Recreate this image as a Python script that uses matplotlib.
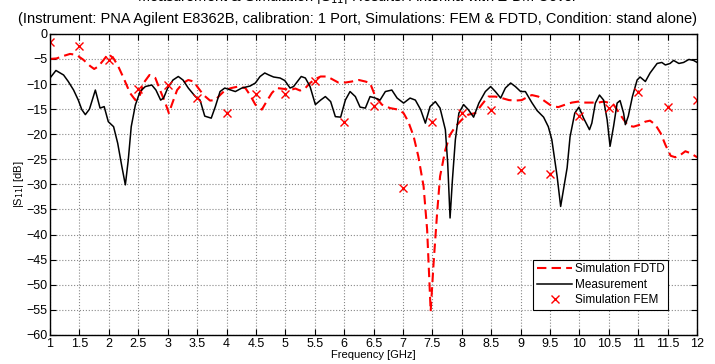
import numpy as np
import matplotlib
matplotlib.use("Agg")
import matplotlib.pyplot as plt

plt.rcParams['font.family'] = ['Liberation Sans', 'DejaVu Sans']

# Measurement (black line)
meas_f = [1.0, 1.10, 1.23, 1.31, 1.40, 1.48, 1.54, 1.60, 1.67, 1.77, 1.85, 1.92, 1.99,
          2.08, 2.15, 2.22, 2.28, 2.33, 2.38, 2.45, 2.53, 2.62, 2.73, 2.80, 2.88, 2.93,
          3.00, 3.09, 3.18, 3.26, 3.35, 3.47, 3.55, 3.63, 3.74, 3.81, 3.89, 3.97, 4.15,
          4.26, 4.40, 4.49, 4.57, 4.65, 4.72, 4.80, 4.91, 4.99, 5.08, 5.14, 5.27, 5.34,
          5.42, 5.51, 5.60, 5.68, 5.77, 5.85, 5.94, 6.02, 6.10, 6.19, 6.27, 6.36, 6.44,
          6.53, 6.61, 6.70, 6.81, 6.90, 7.01, 7.12, 7.21, 7.30, 7.38, 7.46, 7.55, 7.63,
          7.72, 7.76, 7.80, 7.84, 7.89, 7.95, 8.03, 8.11, 8.20, 8.29, 8.40, 8.49, 8.57,
          8.66, 8.74, 8.83, 8.91, 9.00, 9.08, 9.19, 9.28, 9.39, 9.47, 9.53, 9.62, 9.68,
          9.79, 9.84, 9.92, 9.99, 10.07, 10.17, 10.21, 10.27, 10.34, 10.41, 10.47, 10.52,
          10.58, 10.64, 10.69, 10.75, 10.78, 10.83, 10.90, 10.98, 11.03, 11.12, 11.20,
          11.32, 11.40, 11.46, 11.54, 11.60, 11.69, 11.77, 11.86, 11.94, 12.0]
meas_db = [-8.8, -7.3, -8.2, -9.5, -11.2, -13.2, -15.1, -16.1, -15.0, -11.2, -14.8, -14.5, -17.5,
           -18.5, -21.8, -26.4, -30.1, -25.1, -18.5, -14.2, -11.5, -10.5, -10.2, -11.2, -13.2, -12.8,
           -10.8, -9.2, -8.5, -9.2, -10.8, -12.5, -13.2, -16.4, -16.8, -14.5, -11.5, -10.8, -11.5,
           -10.8, -10.4, -9.8, -8.5, -7.8, -8.2, -8.6, -8.8, -9.3, -10.8, -10.5, -8.5, -8.8,
           -10.5, -14.1, -13.2, -12.5, -13.5, -16.5, -16.6, -13.2, -11.5, -12.5, -14.6, -14.8, -12.5,
           -12.8, -13.2, -11.5, -11.2, -12.8, -13.8, -12.8, -13.2, -15.1, -17.8, -14.5, -13.5, -14.8,
           -19.1, -25.8, -36.7, -29.1, -21.1, -15.8, -14.1, -15.1, -16.6, -13.8, -11.5, -10.5, -11.5,
           -12.8, -10.8, -9.8, -10.5, -11.5, -11.5, -13.7, -15.3, -16.6, -18.5, -21.1, -28.4, -34.4,
           -26.7, -20.5, -15.8, -14.6, -16.8, -19.1, -17.8, -13.8, -12.2, -13.2, -17.1, -22.4,
           -18.4, -13.8, -13.3, -15.8, -18.1, -16.4, -12.5, -9.2, -8.6, -9.5, -7.8,
           -5.9, -5.7, -6.2, -5.9, -5.3, -5.9, -5.7, -5.1, -5.3, -5.7]

# Simulation FDTD (red dashed)
fdtd_f = [1.0, 1.11, 1.23, 1.34, 1.45, 1.57, 1.68, 1.75, 1.82, 1.91, 1.99, 2.08, 2.16,
          2.25, 2.36, 2.45, 2.52, 2.59, 2.69, 2.79, 2.87, 2.96, 3.02, 3.07, 3.16, 3.26,
          3.35, 3.44, 3.52, 3.61, 3.72, 3.81, 3.89, 3.98, 4.08, 4.20, 4.32, 4.40, 4.49,
          4.60, 4.68, 4.77, 4.85, 5.00, 5.08, 5.17, 5.25, 5.34, 5.42, 5.51, 5.60, 5.71,
          5.79, 5.90, 6.02, 6.13, 6.25, 6.36, 6.44, 6.53, 6.64, 6.78, 6.92, 7.01, 7.09,
          7.18, 7.26, 7.35, 7.41, 7.45, 7.47, 7.52, 7.58, 7.63, 7.72, 7.80, 7.89, 8.00,
          8.11, 8.23, 8.34, 8.45, 8.57, 8.68, 8.80, 8.91, 9.02, 9.13, 9.19, 9.30, 9.42,
          9.53, 9.64, 9.76, 9.87, 9.98, 10.10, 10.21, 10.32, 10.41, 10.49, 10.58, 10.66,
          10.75, 10.83, 10.92, 11.03, 11.12, 11.20, 11.29, 11.38, 11.46, 11.55, 11.63,
          11.72, 11.80, 11.89, 12.0]
fdtd_db = [-5.0, -4.9, -4.4, -4.0, -4.2, -5.2, -6.4, -7.0, -6.5, -5.2, -4.0, -4.9, -6.5,
           -8.8, -11.8, -13.2, -12.5, -9.8, -8.2, -8.8, -11.2, -13.8, -15.8, -14.1, -11.2, -9.8,
           -9.2, -9.5, -10.8, -12.2, -13.3, -13.2, -12.2, -11.2, -10.8, -10.5, -10.8, -12.2, -14.1,
           -15.1, -13.5, -11.8, -10.8, -11.0, -11.2, -10.9, -11.3, -10.8, -9.8, -9.0, -8.5, -8.5,
           -9.0, -9.7, -9.7, -9.5, -9.2, -9.5, -9.8, -12.5, -14.1, -14.8, -15.1, -15.8, -17.5,
           -20.4, -24.4, -30.4, -39.0, -49.7, -55.3, -45.7, -35.7, -28.4, -23.1, -20.1, -18.5, -17.1,
           -16.1, -15.8, -14.1, -12.5, -12.5, -12.8, -13.2, -13.3, -13.2, -12.5, -12.2, -12.5, -13.5,
           -14.4, -14.6, -14.1, -13.7, -13.5, -13.7, -13.7, -13.7, -13.5, -13.7, -14.1, -15.5,
           -17.1, -18.3, -18.5, -18.1, -17.5, -17.3, -18.1, -19.8, -22.1, -24.3, -24.6,
           -24.1, -23.4, -23.8, -24.6]

# Simulation FEM (red crosses)
fem_f = [1.0, 1.5, 2.0, 2.5, 3.0, 3.5, 4.0, 4.5, 5.0, 5.5, 6.0, 6.5, 7.0, 7.5, 8.0, 8.5,
         9.0, 9.5, 10.0, 10.5, 11.0, 11.5, 12.0]
fem_db = [-1.7, -2.4, -5.3, -11.0, -10.2, -12.8, -15.7, -12.0, -12.0, -9.3, -17.5, -14.3,
          -30.7, -17.6, -15.8, -15.1, -27.1, -27.9, -16.3, -14.8, -11.5, -14.5, -13.2]

fig = plt.figure(figsize=(7.15, 3.64), dpi=100)
ax = fig.add_axes([0.070, 0.080, 0.905, 0.827])

ax.plot(fdtd_f, fdtd_db, color='red', linestyle='--', linewidth=1.5, dashes=(4.5, 2.5),
        label='Simulation FDTD')
ax.plot(meas_f, meas_db, color='black', linewidth=1.1, label='Measurement')
ax.plot(fem_f, fem_db, color='red', linestyle='none', marker='x', markersize=6,
        markeredgewidth=1.0, label='Simulation FEM')

ax.set_xlim(1, 12)
ax.set_ylim(-60, 0)
ax.set_xticks(np.arange(1, 12.01, 0.5))
ax.set_xticklabels(['%g' % t for t in np.arange(1, 12.01, 0.5)])
ax.set_yticks(np.arange(-60, 0.1, 5))
ax.tick_params(direction='in', top=True, right=True, labelsize=9, length=4, pad=2)
ax.grid(True, linestyle=':', color='#888888', linewidth=0.8)
for s in ax.spines.values():
    s.set_linewidth(1.0)

ax.set_xlabel('Frequency [GHz]', fontsize=8, labelpad=0)
ax.set_ylabel('|S$_{11}$| [dB]', fontsize=8, labelpad=0)

fig.text(0.5, 1.008, 'Measurement & Simulation |S$_{11}$| Results: Antenna with Z-DM Cover',
         ha='center', va='center', fontsize=10.5)
fig.text(0.5, 0.948, '(Instrument: PNA Agilent E8362B, calibration: 1 Port, Simulations: FEM & FDTD, '
         'Condition: stand alone)', ha='center', va='center', fontsize=10.5)

leg = ax.legend(loc='lower right', bbox_to_anchor=(0.955, 0.083), fontsize=8.5,
                fancybox=False, edgecolor='black', framealpha=1, borderpad=0.3,
                labelspacing=0.3, handlelength=3.0, handletextpad=0.2, borderaxespad=0)
leg.get_frame().set_linewidth(0.8)

fig.savefig('out.png', dpi=100)
